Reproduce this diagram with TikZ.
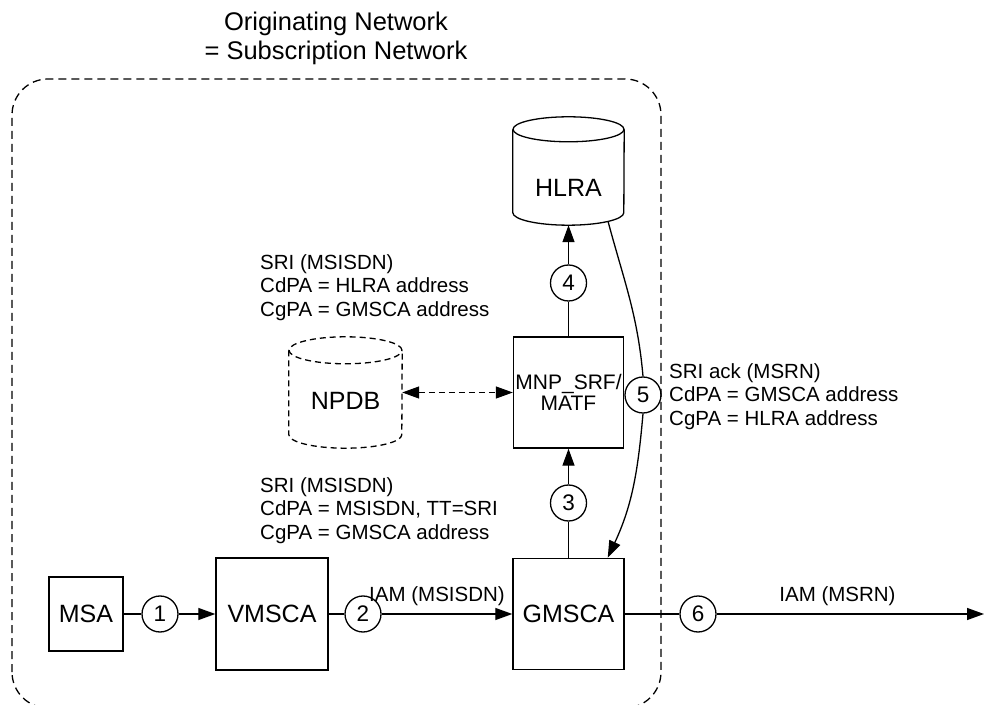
\documentclass[tikz,border=0pt]{standalone}
\usepackage{fontspec}
\setmainfont{Liberation Sans}
\usetikzlibrary{arrows.meta,calc}
\begin{document}
\begin{tikzpicture}[x=1pt,y=1pt,
  box/.style={draw,line width=1.4pt,inner sep=0pt,font=\fontsize{25}{30}\selectfont},
  num/.style={draw,circle,line width=1.3pt,minimum size=36pt,inner sep=0pt,font=\fontsize{22.5}{22}\selectfont},
  conn/.style={line width=1.3pt},
  tip/.style={-{Triangle[length=17pt,width=12pt]}},
  lbl/.style={align=left,inner sep=0pt,anchor=north west,font=\fontsize{20.5}{23.5}\selectfont},
  msg/.style={inner sep=0pt,anchor=base,font=\fontsize{20.5}{23.5}\selectfont},
  big/.style={inner sep=0pt,font=\fontsize{25}{30}\selectfont},
  netdash/.style={dash pattern=on 8pt off 5pt},
  dbdash/.style={dash pattern=on 6pt off 4pt}
]
\useasboundingbox (0,0) rectangle (984,704);

% title
\node[inner sep=0pt,align=center,anchor=north,font=\fontsize{25.5}{29}\selectfont] (title) at (336,692.5) {Originating Network\\= Subscription Network};

% network boundary
\draw[line width=1.3pt,netdash,rounded corners=36pt] (12,-4) rectangle (661,625);

% boxes
\node[box,minimum width=74pt,minimum height=74pt] (msa) at (86,90) {MSA};
\node[box,minimum width=112pt,minimum height=112pt] (vmsca) at (272,90) {VMSCA};
\node[box,minimum width=111pt,minimum height=111pt] (gmsca) at (568.5,90) {GMSCA};
\node[box,minimum width=110pt,minimum height=111pt,align=center,font=\fontsize{21}{21}\selectfont] (mnp) at (568.5,311.5) {MNP\_SRF/\\MATF};

% HLRA cylinder
\node[inner sep=0pt,minimum width=111pt,minimum height=108pt] (hlra) at (568.5,533) {};
\draw[line width=1.3pt] ([yshift=-12.5pt]hlra.north) ellipse [x radius=55.5pt, y radius=12.5pt];
\draw[line width=1.3pt] ([yshift=-12.5pt]hlra.north west) -- ([yshift=12.5pt]hlra.south west)
  arc[start angle=180,end angle=360,x radius=55.5pt,y radius=12.5pt] -- ([yshift=-12.5pt]hlra.north east);
\node[big] (hlratext) at (568.5,516) {HLRA};

% NPDB cylinder (dashed)
\node[inner sep=0pt,minimum width=113pt,minimum height=111pt] (npdb) at (345.5,311.5) {};
\draw[line width=1.3pt,dbdash] ([yshift=-13.5pt]npdb.north) ellipse [x radius=56.5pt, y radius=13.5pt];
\draw[line width=1.3pt,dbdash] ([yshift=-13.5pt]npdb.north west) -- ([yshift=13.5pt]npdb.south west)
  arc[start angle=180,end angle=360,x radius=56.5pt,y radius=13.5pt] -- ([yshift=-13.5pt]npdb.north east);
\node[big] (npdbtext) at (345.5,303) {NPDB};

% numbered circles
\node[num] (c1) at (160,90) {\raisebox{-2pt}{1}};
\node[num] (c2) at (363,90) {\raisebox{-2pt}{2}};
\node[num] (c3) at (568.5,201) {\raisebox{-2pt}{3}};
\node[num] (c4) at (568.5,421) {\raisebox{-2pt}{4}};
\node[num] (c5) at (643,309) {\raisebox{-2pt}{5}};
\node[num] (c6) at (698,90) {\raisebox{-2pt}{6}};

% connectors
\draw[conn] (msa) -- (c1);
\draw[conn,tip] (c1) -- (vmsca);
\draw[conn] (vmsca) -- (c2);
\draw[conn,tip] (c2) -- (gmsca);
\draw[conn] (gmsca) -- (c3);
\draw[conn,tip] (c3) -- (mnp);
\draw[conn] (mnp) -- (c4);
\draw[conn,tip] (c4) -- (hlra);
\coordinate (hlraout) at (608,482.7);
\coordinate (gin) at ([xshift=-17pt]gmsca.north east);
\draw[conn] (hlraout) to[out=-75,in=95] (c5.north);
\draw[conn,tip] (c5.south) to[out=-95,in=65] (gin);
\draw[conn,dbdash,{Triangle[length=17pt,width=12pt]}-{Triangle[length=17pt,width=12pt]}] (npdb) -- (mnp);
\draw[conn] (gmsca) -- (c6);
\coordinate (outend) at (984,90);
\draw[conn,tip] (c6) -- (outend);

% labels
\node[lbl] (l1) at (260,450) {SRI (MSISDN)\\CdPA = HLRA address\\CgPA = GMSCA address};
\node[lbl] (l2) at (669,341) {SRI ack (MSRN)\\CdPA = GMSCA address\\CgPA = HLRA address};
\node[lbl] (l3) at (260,227) {SRI (MSISDN)\\CdPA = MSISDN, TT=SRI\\CgPA = GMSCA address};
\node[msg] (iam1) at (437,103) {IAM (MSISDN)};
\node[msg] (iam2) at (837.5,103) {IAM (MSRN)};
\end{tikzpicture}
\end{document}
